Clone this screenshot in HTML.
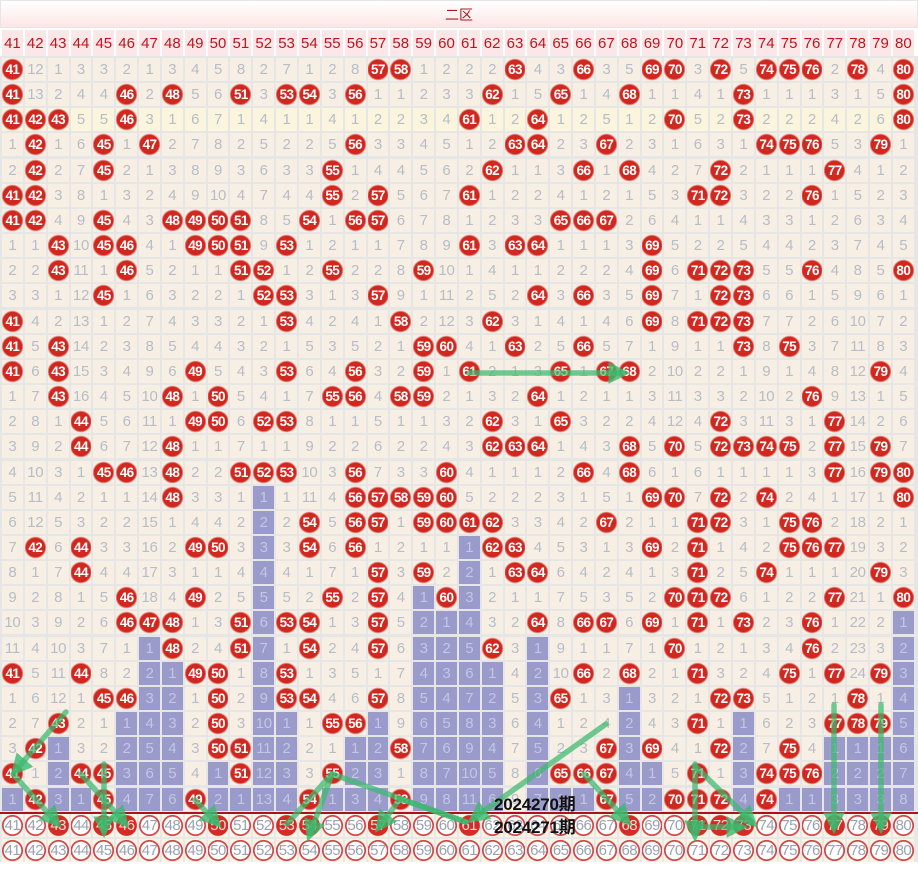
<!DOCTYPE html>
<html><head><meta charset="utf-8">
<style>
*{margin:0;padding:0;box-sizing:border-box}
body{width:918px;height:869px;background:#fff;position:relative;overflow:hidden;font-family:"Liberation Sans","Noto Sans CJK SC",sans-serif}
#hd{position:absolute;left:0;top:0;width:918px;height:28px;border:1px solid #e6e6e6;background:linear-gradient(#fff,#fde6e6);color:#b8141c;font-size:14px;text-align:center;line-height:28px}
#nums{position:absolute;left:2px;top:30px;display:grid;grid-template-columns:repeat(40,20.85px);column-gap:2px}
#nums span{height:26px;line-height:28px;background:#fbe6e8;color:#c0141c;font-size:15px;text-align:center}
#g{position:absolute;left:0;top:56px;width:918px;height:758px;background:#e6e6e6}
#grid{position:absolute;left:2px;top:58px;display:grid;grid-template-columns:repeat(40,20.85px);column-gap:2px;row-gap:2.17px;grid-auto-rows:23px}
#grid p,#bot p{display:contents}
#grid i,#grid b,#grid u{display:block;font-style:normal;text-decoration:none;text-align:center;line-height:23px;font-size:15px;color:#b5bdc8;background:#f8efe4;font-weight:normal;letter-spacing:-0.3px}
#grid .y i{background:#fcf5de}
#grid b{background:radial-gradient(circle 11px at 50% 50%,#d52b22 0,#cf261e 9.3px,rgba(210,60,50,.35) 10.6px,transparent 11.2px),#f8efe4;color:#fff;font-weight:bold;font-size:13.5px;letter-spacing:-0.6px}
#grid .y b{background:radial-gradient(circle 11px at 50% 50%,#d52b22 0,#cf261e 9.3px,rgba(210,60,50,.35) 10.6px,transparent 11.2px),#fcf5de}
#grid u{background:#9a9acb;color:#c4c6e4}
#redl{position:absolute;left:0;top:812px;width:918px;height:2px;background:#a8141c}
#bg2{position:absolute;left:0;top:814px;width:918px;height:48px;background:#e8e8e8}
#bot{position:absolute;left:2px;top:814px;display:grid;grid-template-columns:repeat(40,20.85px);column-gap:2px;row-gap:2px;grid-auto-rows:23px}
#bot i,#bot b{display:block;font-style:normal;background:radial-gradient(circle 10.5px at 50% 50%,#fff 0,#fff 8.6px,#d04848 9px,#d04848 10.3px,transparent 10.8px),#fbf4e6;color:#9aa2ae;text-align:center;line-height:23px;font-size:15px;font-weight:normal;letter-spacing:-0.6px}
#bot b{background:radial-gradient(circle 10.5px at 50% 50%,#d52b22 0,#d52b22 10px,transparent 10.8px),#fbf4e6;color:#f4dede}
.t{position:absolute;left:494px;font-weight:bold;font-size:17px;color:#111;letter-spacing:-0.2px}
svg{position:absolute;left:0;top:0}
</style></head><body>
<div id="hd">二区</div>
<div id="nums"><span>41</span><span>42</span><span>43</span><span>44</span><span>45</span><span>46</span><span>47</span><span>48</span><span>49</span><span>50</span><span>51</span><span>52</span><span>53</span><span>54</span><span>55</span><span>56</span><span>57</span><span>58</span><span>59</span><span>60</span><span>61</span><span>62</span><span>63</span><span>64</span><span>65</span><span>66</span><span>67</span><span>68</span><span>69</span><span>70</span><span>71</span><span>72</span><span>73</span><span>74</span><span>75</span><span>76</span><span>77</span><span>78</span><span>79</span><span>80</span></div>
<div id="g"></div>
<div id="grid">
<p><b>41</b><i>12</i><i>1</i><i>3</i><i>3</i><i>2</i><i>1</i><i>3</i><i>4</i><i>5</i><i>8</i><i>2</i><i>7</i><i>1</i><i>2</i><i>8</i><b>57</b><b>58</b><i>1</i><i>2</i><i>2</i><i>2</i><b>63</b><i>4</i><i>3</i><b>66</b><i>3</i><i>5</i><b>69</b><b>70</b><i>3</i><b>72</b><i>5</i><b>74</b><b>75</b><b>76</b><i>2</i><b>78</b><i>4</i><b>80</b></p>
<p><b>41</b><i>13</i><i>2</i><i>4</i><i>4</i><b>46</b><i>2</i><b>48</b><i>5</i><i>6</i><b>51</b><i>3</i><b>53</b><b>54</b><i>3</i><b>56</b><i>1</i><i>1</i><i>2</i><i>3</i><i>3</i><b>62</b><i>1</i><i>5</i><b>65</b><i>1</i><i>4</i><b>68</b><i>1</i><i>1</i><i>4</i><i>1</i><b>73</b><i>1</i><i>1</i><i>1</i><i>3</i><i>1</i><i>5</i><b>80</b></p>
<p class="y"><b>41</b><b>42</b><b>43</b><i>5</i><i>5</i><b>46</b><i>3</i><i>1</i><i>6</i><i>7</i><i>1</i><i>4</i><i>1</i><i>1</i><i>4</i><i>1</i><i>2</i><i>2</i><i>3</i><i>4</i><b>61</b><i>1</i><i>2</i><b>64</b><i>1</i><i>2</i><i>5</i><i>1</i><i>2</i><b>70</b><i>5</i><i>2</i><b>73</b><i>2</i><i>2</i><i>2</i><i>4</i><i>2</i><i>6</i><b>80</b></p>
<p><i>1</i><b>42</b><i>1</i><i>6</i><b>45</b><i>1</i><b>47</b><i>2</i><i>7</i><i>8</i><i>2</i><i>5</i><i>2</i><i>2</i><i>5</i><b>56</b><i>3</i><i>3</i><i>4</i><i>5</i><i>1</i><i>2</i><b>63</b><b>64</b><i>2</i><i>3</i><b>67</b><i>2</i><i>3</i><i>1</i><i>6</i><i>3</i><i>1</i><b>74</b><b>75</b><b>76</b><i>5</i><i>3</i><b>79</b><i>1</i></p>
<p><i>2</i><b>42</b><i>2</i><i>7</i><b>45</b><i>2</i><i>1</i><i>3</i><i>8</i><i>9</i><i>3</i><i>6</i><i>3</i><i>3</i><b>55</b><i>1</i><i>4</i><i>4</i><i>5</i><i>6</i><i>2</i><b>62</b><i>1</i><i>1</i><i>3</i><b>66</b><i>1</i><b>68</b><i>4</i><i>2</i><i>7</i><b>72</b><i>2</i><i>1</i><i>1</i><i>1</i><b>77</b><i>4</i><i>1</i><i>2</i></p>
<p><b>41</b><b>42</b><i>3</i><i>8</i><i>1</i><i>3</i><i>2</i><i>4</i><i>9</i><i>10</i><i>4</i><i>7</i><i>4</i><i>4</i><b>55</b><i>2</i><b>57</b><i>5</i><i>6</i><i>7</i><b>61</b><i>1</i><i>2</i><i>2</i><i>4</i><i>1</i><i>2</i><i>1</i><i>5</i><i>3</i><b>71</b><b>72</b><i>3</i><i>2</i><i>2</i><b>76</b><i>1</i><i>5</i><i>2</i><i>3</i></p>
<p><b>41</b><b>42</b><i>4</i><i>9</i><b>45</b><i>4</i><i>3</i><b>48</b><b>49</b><b>50</b><b>51</b><i>8</i><i>5</i><b>54</b><i>1</i><b>56</b><b>57</b><i>6</i><i>7</i><i>8</i><i>1</i><i>2</i><i>3</i><i>3</i><b>65</b><b>66</b><b>67</b><i>2</i><i>6</i><i>4</i><i>1</i><i>1</i><i>4</i><i>3</i><i>3</i><i>1</i><i>2</i><i>6</i><i>3</i><i>4</i></p>
<p><i>1</i><i>1</i><b>43</b><i>10</i><b>45</b><b>46</b><i>4</i><i>1</i><b>49</b><b>50</b><b>51</b><i>9</i><b>53</b><i>1</i><i>2</i><i>1</i><i>1</i><i>7</i><i>8</i><i>9</i><b>61</b><i>3</i><b>63</b><b>64</b><i>1</i><i>1</i><i>1</i><i>3</i><b>69</b><i>5</i><i>2</i><i>2</i><i>5</i><i>4</i><i>4</i><i>2</i><i>3</i><i>7</i><i>4</i><i>5</i></p>
<p><i>2</i><i>2</i><b>43</b><i>11</i><i>1</i><b>46</b><i>5</i><i>2</i><i>1</i><i>1</i><b>51</b><b>52</b><i>1</i><i>2</i><b>55</b><i>2</i><i>2</i><i>8</i><b>59</b><i>10</i><i>1</i><i>4</i><i>1</i><i>1</i><i>2</i><i>2</i><i>2</i><i>4</i><b>69</b><i>6</i><b>71</b><b>72</b><b>73</b><i>5</i><i>5</i><b>76</b><i>4</i><i>8</i><i>5</i><b>80</b></p>
<p><i>3</i><i>3</i><i>1</i><i>12</i><b>45</b><i>1</i><i>6</i><i>3</i><i>2</i><i>2</i><i>1</i><b>52</b><b>53</b><i>3</i><i>1</i><i>3</i><b>57</b><i>9</i><i>1</i><i>11</i><i>2</i><i>5</i><i>2</i><b>64</b><i>3</i><b>66</b><i>3</i><i>5</i><b>69</b><i>7</i><i>1</i><b>72</b><b>73</b><i>6</i><i>6</i><i>1</i><i>5</i><i>9</i><i>6</i><i>1</i></p>
<p><b>41</b><i>4</i><i>2</i><i>13</i><i>1</i><i>2</i><i>7</i><i>4</i><i>3</i><i>3</i><i>2</i><i>1</i><b>53</b><i>4</i><i>2</i><i>4</i><i>1</i><b>58</b><i>2</i><i>12</i><i>3</i><b>62</b><i>3</i><i>1</i><i>4</i><i>1</i><i>4</i><i>6</i><b>69</b><i>8</i><b>71</b><b>72</b><b>73</b><i>7</i><i>7</i><i>2</i><i>6</i><i>10</i><i>7</i><i>2</i></p>
<p><b>41</b><i>5</i><b>43</b><i>14</i><i>2</i><i>3</i><i>8</i><i>5</i><i>4</i><i>4</i><i>3</i><i>2</i><i>1</i><i>5</i><i>3</i><i>5</i><i>2</i><i>1</i><b>59</b><b>60</b><i>4</i><i>1</i><b>63</b><i>2</i><i>5</i><b>66</b><i>5</i><i>7</i><i>1</i><i>9</i><i>1</i><i>1</i><b>73</b><i>8</i><b>75</b><i>3</i><i>7</i><i>11</i><i>8</i><i>3</i></p>
<p><b>41</b><i>6</i><b>43</b><i>15</i><i>3</i><i>4</i><i>9</i><i>6</i><b>49</b><i>5</i><i>4</i><i>3</i><b>53</b><i>6</i><i>4</i><b>56</b><i>3</i><i>2</i><b>59</b><i>1</i><b>61</b><i>2</i><i>1</i><i>3</i><b>65</b><i>1</i><b>67</b><b>68</b><i>2</i><i>10</i><i>2</i><i>2</i><i>1</i><i>9</i><i>1</i><i>4</i><i>8</i><i>12</i><b>79</b><i>4</i></p>
<p><i>1</i><i>7</i><b>43</b><i>16</i><i>4</i><i>5</i><i>10</i><b>48</b><i>1</i><b>50</b><i>5</i><i>4</i><i>1</i><i>7</i><b>55</b><b>56</b><i>4</i><b>58</b><b>59</b><i>2</i><i>1</i><i>3</i><i>2</i><b>64</b><i>1</i><i>2</i><i>1</i><i>1</i><i>3</i><i>11</i><i>3</i><i>3</i><i>2</i><i>10</i><i>2</i><b>76</b><i>9</i><i>13</i><i>1</i><i>5</i></p>
<p><i>2</i><i>8</i><i>1</i><b>44</b><i>5</i><i>6</i><i>11</i><i>1</i><b>49</b><b>50</b><i>6</i><b>52</b><b>53</b><i>8</i><i>1</i><i>1</i><i>5</i><i>1</i><i>1</i><i>3</i><i>2</i><b>62</b><i>3</i><i>1</i><b>65</b><i>3</i><i>2</i><i>2</i><i>4</i><i>12</i><i>4</i><b>72</b><i>3</i><i>11</i><i>3</i><i>1</i><b>77</b><i>14</i><i>2</i><i>6</i></p>
<p><i>3</i><i>9</i><i>2</i><b>44</b><i>6</i><i>7</i><i>12</i><b>48</b><i>1</i><i>1</i><i>7</i><i>1</i><i>1</i><i>9</i><i>2</i><i>2</i><i>6</i><i>2</i><i>2</i><i>4</i><i>3</i><b>62</b><b>63</b><b>64</b><i>1</i><i>4</i><i>3</i><b>68</b><i>5</i><b>70</b><i>5</i><b>72</b><b>73</b><b>74</b><b>75</b><i>2</i><b>77</b><i>15</i><b>79</b><i>7</i></p>
<p><i>4</i><i>10</i><i>3</i><i>1</i><b>45</b><b>46</b><i>13</i><b>48</b><i>2</i><i>2</i><b>51</b><b>52</b><b>53</b><i>10</i><i>3</i><b>56</b><i>7</i><i>3</i><i>3</i><b>60</b><i>4</i><i>1</i><i>1</i><i>1</i><i>2</i><b>66</b><i>4</i><b>68</b><i>6</i><i>1</i><i>6</i><i>1</i><i>1</i><i>1</i><i>1</i><i>3</i><b>77</b><i>16</i><b>79</b><b>80</b></p>
<p><i>5</i><i>11</i><i>4</i><i>2</i><i>1</i><i>1</i><i>14</i><b>48</b><i>3</i><i>3</i><i>1</i><u>1</u><i>1</i><i>11</i><i>4</i><b>56</b><b>57</b><b>58</b><b>59</b><b>60</b><i>5</i><i>2</i><i>2</i><i>2</i><i>3</i><i>1</i><i>5</i><i>1</i><b>69</b><b>70</b><i>7</i><b>72</b><i>2</i><b>74</b><i>2</i><i>4</i><i>1</i><i>17</i><i>1</i><b>80</b></p>
<p><i>6</i><i>12</i><i>5</i><i>3</i><i>2</i><i>2</i><i>15</i><i>1</i><i>4</i><i>4</i><i>2</i><u>2</u><i>2</i><b>54</b><i>5</i><b>56</b><b>57</b><i>1</i><b>59</b><b>60</b><b>61</b><b>62</b><i>3</i><i>3</i><i>4</i><i>2</i><b>67</b><i>2</i><i>1</i><i>1</i><b>71</b><b>72</b><i>3</i><i>1</i><b>75</b><b>76</b><i>2</i><i>18</i><i>2</i><i>1</i></p>
<p><i>7</i><b>42</b><i>6</i><b>44</b><i>3</i><i>3</i><i>16</i><i>2</i><b>49</b><b>50</b><i>3</i><u>3</u><i>3</i><b>54</b><i>6</i><b>56</b><i>1</i><i>2</i><i>1</i><i>1</i><u>1</u><b>62</b><b>63</b><i>4</i><i>5</i><i>3</i><i>1</i><i>3</i><b>69</b><i>2</i><b>71</b><i>1</i><i>4</i><i>2</i><b>75</b><b>76</b><b>77</b><i>19</i><i>3</i><i>2</i></p>
<p><i>8</i><i>1</i><i>7</i><b>44</b><i>4</i><i>4</i><i>17</i><i>3</i><i>1</i><i>1</i><i>4</i><u>4</u><i>4</i><i>1</i><i>7</i><i>1</i><b>57</b><i>3</i><b>59</b><i>2</i><u>2</u><i>1</i><b>63</b><b>64</b><i>6</i><i>4</i><i>2</i><i>4</i><i>1</i><i>3</i><b>71</b><i>2</i><i>5</i><b>74</b><i>1</i><i>1</i><i>1</i><i>20</i><b>79</b><i>3</i></p>
<p><i>9</i><i>2</i><i>8</i><i>1</i><i>5</i><b>46</b><i>18</i><i>4</i><b>49</b><i>2</i><i>5</i><u>5</u><i>5</i><i>2</i><b>55</b><i>2</i><b>57</b><i>4</i><u>1</u><b>60</b><u>3</u><i>2</i><i>1</i><i>1</i><i>7</i><i>5</i><i>3</i><i>5</i><i>2</i><b>70</b><b>71</b><b>72</b><i>6</i><i>1</i><i>2</i><i>2</i><b>77</b><i>21</i><i>1</i><b>80</b></p>
<p><i>10</i><i>3</i><i>9</i><i>2</i><i>6</i><b>46</b><b>47</b><b>48</b><i>1</i><i>3</i><b>51</b><u>6</u><b>53</b><b>54</b><i>1</i><i>3</i><b>57</b><i>5</i><u>2</u><u>1</u><u>4</u><i>3</i><i>2</i><b>64</b><i>8</i><b>66</b><b>67</b><i>6</i><b>69</b><i>1</i><b>71</b><i>1</i><b>73</b><i>2</i><i>3</i><b>76</b><i>1</i><i>22</i><i>2</i><u>1</u></p>
<p><i>11</i><i>4</i><i>10</i><i>3</i><i>7</i><i>1</i><u>1</u><b>48</b><i>2</i><i>4</i><b>51</b><u>7</u><i>1</i><b>54</b><i>2</i><i>4</i><b>57</b><i>6</i><u>3</u><u>2</u><u>5</u><b>62</b><i>3</i><u>1</u><i>9</i><i>1</i><i>1</i><i>7</i><i>1</i><b>70</b><i>1</i><i>2</i><i>1</i><i>3</i><i>4</i><b>76</b><i>2</i><i>23</i><i>3</i><u>2</u></p>
<p><b>41</b><i>5</i><i>11</i><b>44</b><i>8</i><i>2</i><u>2</u><u>1</u><b>49</b><b>50</b><i>1</i><u>8</u><b>53</b><i>1</i><i>3</i><i>5</i><i>1</i><i>7</i><u>4</u><u>3</u><u>6</u><u>1</u><i>4</i><u>2</u><i>10</i><b>66</b><i>2</i><b>68</b><i>2</i><i>1</i><b>71</b><i>3</i><i>2</i><i>4</i><b>75</b><i>1</i><b>77</b><i>24</i><b>79</b><u>3</u></p>
<p><i>1</i><i>6</i><i>12</i><i>1</i><b>45</b><b>46</b><u>3</u><u>2</u><i>1</i><b>50</b><i>2</i><u>9</u><b>53</b><b>54</b><i>4</i><i>6</i><b>57</b><i>8</i><u>5</u><u>4</u><u>7</u><u>2</u><i>5</i><u>3</u><b>65</b><i>1</i><i>3</i><u>1</u><i>3</i><i>2</i><i>1</i><b>72</b><b>73</b><i>5</i><i>1</i><i>2</i><i>1</i><b>78</b><i>1</i><u>4</u></p>
<p><i>2</i><i>7</i><b>43</b><i>2</i><i>1</i><u>1</u><u>4</u><u>3</u><i>2</i><b>50</b><i>3</i><u>10</u><u>1</u><i>1</i><b>55</b><b>56</b><u>1</u><i>9</i><u>6</u><u>5</u><u>8</u><u>3</u><i>6</i><u>4</u><i>1</i><i>2</i><i>4</i><u>2</u><i>4</i><i>3</i><b>71</b><i>1</i><u>1</u><i>6</i><i>2</i><i>3</i><b>77</b><b>78</b><b>79</b><u>5</u></p>
<p><i>3</i><b>42</b><u>1</u><i>3</i><i>2</i><u>2</u><u>5</u><u>4</u><i>3</i><b>50</b><b>51</b><u>11</u><u>2</u><i>2</i><i>1</i><u>1</u><u>2</u><b>58</b><u>7</u><u>6</u><u>9</u><u>4</u><i>7</i><u>5</u><i>2</i><i>3</i><b>67</b><u>3</u><b>69</b><i>4</i><i>1</i><b>72</b><u>2</u><i>7</i><b>75</b><i>4</i><u>1</u><u>1</u><u>1</u><u>6</u></p>
<p><b>41</b><i>1</i><u>2</u><b>44</b><b>45</b><u>3</u><u>6</u><u>5</u><i>4</i><u>1</u><b>51</b><u>12</u><u>3</u><i>3</i><b>55</b><u>2</u><u>3</u><i>1</i><u>8</u><u>7</u><u>10</u><u>5</u><i>8</i><u>6</u><b>65</b><b>66</b><b>67</b><u>4</u><u>1</u><i>5</i><b>71</b><i>1</i><u>3</u><b>74</b><b>75</b><b>76</b><u>2</u><u>2</u><u>2</u><u>7</u></p>
<p><u>1</u><b>42</b><u>3</u><u>1</u><b>45</b><u>4</u><u>7</u><u>6</u><b>49</b><u>2</u><u>1</u><u>13</u><u>4</u><b>54</b><u>1</u><u>3</u><u>4</u><b>58</b><u>9</u><u>8</u><u>11</u><u>6</u><i>9</i><u>7</u><u>1</u><u>1</u><b>67</b><u>5</u><u>2</u><b>70</b><b>71</b><b>72</b><u>4</u><b>74</b><u>1</u><u>1</u><u>3</u><u>3</u><u>3</u><u>8</u></p>
</div>
<div id="redl"></div>
<div id="bg2"></div>
<div id="bot">
<p><i>41</i><i>42</i><b>43</b><i>44</i><b>45</b><b>46</b><i>47</i><i>48</i><i>49</i><b>50</b><i>51</i><i>52</i><b>53</b><b>54</b><i>55</i><i>56</i><b>57</b><i>58</i><i>59</i><i>60</i><b>61</b><i>62</i><i>63</i><i>64</i><i>65</i><i>66</i><i>67</i><b>68</b><i>69</i><i>70</i><b>71</b><b>72</b><b>73</b><i>74</i><i>75</i><i>76</i><b>77</b><i>78</i><b>79</b><i>80</i></p>
<p><i>41</i><i>42</i><i>43</i><i>44</i><i>45</i><i>46</i><i>47</i><i>48</i><i>49</i><i>50</i><i>51</i><i>52</i><i>53</i><i>54</i><i>55</i><i>56</i><i>57</i><i>58</i><i>59</i><i>60</i><i>61</i><i>62</i><i>63</i><i>64</i><i>65</i><i>66</i><i>67</i><i>68</i><i>69</i><i>70</i><i>71</i><i>72</i><i>73</i><i>74</i><i>75</i><i>76</i><i>77</i><i>78</i><i>79</i><i>80</i></p>
</div>
<svg width="918" height="869" viewBox="0 0 918 869">
<defs><marker id="a" markerWidth="4" markerHeight="4" refX="2.5" refY="2" orient="auto" markerUnits="strokeWidth"><path d="M0,0 L4,2 L0,4 z" fill="rgba(60,185,110,0.8)"/></marker></defs>
<g stroke="rgba(60,185,110,0.72)" stroke-width="5.5" fill="none" stroke-linecap="round">
<line x1="469" y1="373" x2="622" y2="373" marker-end="url(#a)"/>
<line x1="66" y1="712" x2="16" y2="770" marker-end="url(#a)"/>
<line x1="13" y1="774" x2="56" y2="822" marker-end="url(#a)"/>
<line x1="81" y1="774" x2="124" y2="822" marker-end="url(#a)"/>
<line x1="104" y1="764" x2="104" y2="830" marker-end="url(#a)"/>
<line x1="195" y1="800" x2="216" y2="822" marker-end="url(#a)"/>
<line x1="287" y1="824" x2="330" y2="776"/>
<line x1="332" y1="774" x2="310" y2="834" marker-end="url(#a)"/>
<line x1="332" y1="774" x2="466" y2="822"/>
<line x1="400" y1="799" x2="380" y2="826" marker-end="url(#a)"/>
<line x1="400" y1="799" x2="466" y2="822"/>
<line x1="606" y1="724" x2="474" y2="818" marker-end="url(#a)"/>
<line x1="584" y1="774" x2="626" y2="820" marker-end="url(#a)"/>
<line x1="695" y1="764" x2="695" y2="834" marker-end="url(#a)"/>
<line x1="695" y1="766" x2="752" y2="822" marker-end="url(#a)"/>
<line x1="697" y1="827" x2="740" y2="827" marker-end="url(#a)"/>
<line x1="834" y1="705" x2="834" y2="826" marker-end="url(#a)"/>
<line x1="881" y1="705" x2="881" y2="826" marker-end="url(#a)"/>
</g>
</svg>
<div class="t" style="top:790px">2024270期</div>
<div class="t" style="top:813px">2024271期</div>
</body></html>
